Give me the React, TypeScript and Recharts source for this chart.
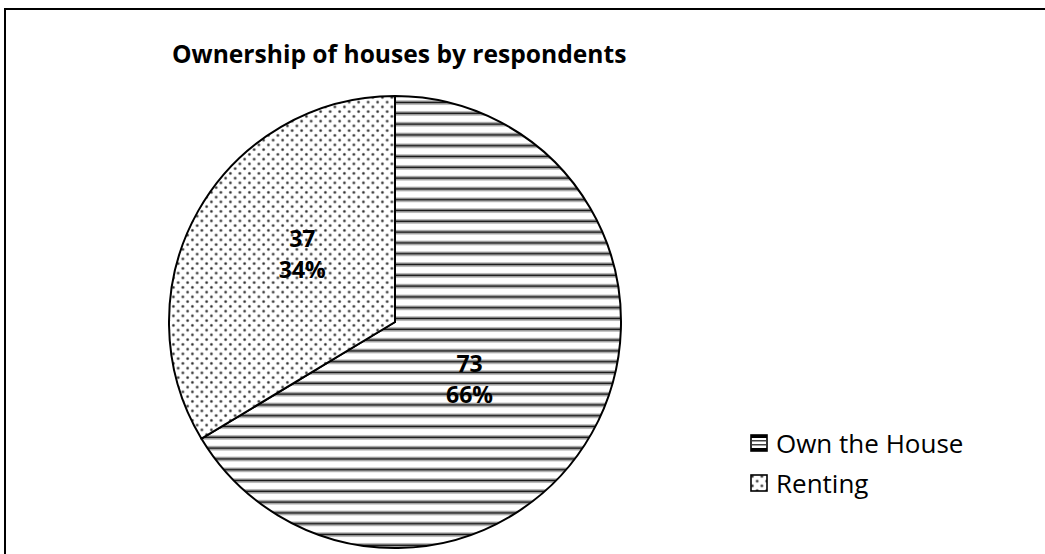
import React from "react";
import { PieChart, Pie, Cell } from "recharts";

const categories = ["Own the House", "Renting"];
const counts = [73, 37];
const percents = ["66%", "34%"];

const fills = ["url(#stripes)", "url(#dots)"];
// where each slice label sits, as a share of the radius from the centre
const labelOffset = [
  [0.33, 0.25],
  [-0.41, -0.3],
];

const data = categories.map((name, i) => ({ name, value: counts[i], pct: percents[i] }));

const FONT = "'Open Sans', 'Noto Sans', sans-serif";

function SliceLabel(props: any) {
  const { cx, cy, outerRadius, index } = props;
  const x = cx + outerRadius * labelOffset[index][0];
  const y = cy + outerRadius * labelOffset[index][1];
  return (
    <text x={x} y={y} textAnchor="middle" fontFamily={FONT} fontWeight={700} fontSize={23} fill="#000">
      <tspan x={x} dy={-7}>{data[index].value}</tspan>
      <tspan x={x} dy={31}>{data[index].pct}</tspan>
    </text>
  );
}

function Patterns() {
  return (
    <svg width={0} height={0} style={{ position: "absolute" }}>
      <defs>
        <pattern id="stripes" patternUnits="userSpaceOnUse" width={20} height={10.8}>
          <rect width={20} height={10.8} fill="#fff" />
          <rect y={3.3} width={20} height={1.2} fill="#999" />
          <rect y={4.5} width={20} height={1.8} fill="#111" />
          <rect y={6.3} width={20} height={1.2} fill="#999" />
        </pattern>
        <pattern id="dots" patternUnits="userSpaceOnUse" width={9.5} height={9.5}>
          <rect width={9.5} height={9.5} fill="#fff" />
          <circle cx={2.4} cy={2.4} r={1.6} fill="#999" />
          <circle cx={2.4} cy={2.4} r={1} fill="#222" />
          <circle cx={7.15} cy={7.15} r={1.6} fill="#999" />
          <circle cx={7.15} cy={7.15} r={1} fill="#222" />
        </pattern>
      </defs>
    </svg>
  );
}

export default function App() {
  return (
    <div style={{ position: "absolute", left: 0, top: 0, width: 1045, height: 554, background: "#fff", overflow: "hidden" }}>
      <Patterns />
      <svg width={1045} height={554} style={{ position: "absolute", left: 0, top: 0 }}>
        <rect x={5} y={9} width={2000} height={2000} fill="none" stroke="#000" strokeWidth={2} />
        <text x={172} y={63} fontFamily={FONT} fontWeight={700} fontSize={24.6} fill="#000">
          Ownership of houses by respondents
        </text>
      </svg>
      <div style={{ position: "absolute", left: 0, top: 0 }}>
        <PieChart width={1045} height={554} margin={{ top: 0, right: 0, bottom: 0, left: 0 }}>
          <Pie
            data={data}
            dataKey="value"
            nameKey="name"
            cx={395}
            cy={322}
            outerRadius={226}
            startAngle={90}
            endAngle={-270}
            stroke="#000"
            strokeWidth={2}
            label={SliceLabel}
            labelLine={false}
            isAnimationActive={false}
          >
            {data.map((d, i) => (
              <Cell key={d.name} fill={fills[i]} />
            ))}
          </Pie>
        </PieChart>
      </div>
      <div style={{ position: "absolute", left: 750, top: 423, fontFamily: FONT, fontSize: 26, color: "#000" }}>
        {data.map((d, i) => (
          <div key={d.name} style={{ display: "flex", alignItems: "center", height: 40 }}>
            <svg width={18} height={18} style={{ marginRight: 8 }}>
              <rect x={1} y={1} width={16} height={16} fill={i === 0 ? "#fff" : "url(#dots)"} stroke="#000" strokeWidth={1.6} />
              {i === 0 && (
                <>
                  <rect x={1} y={1} width={16} height={3} fill="#000" />
                  <rect x={2} y={6} width={14} height={1.5} fill="#444" />
                  <rect x={2} y={10} width={14} height={1.5} fill="#444" />
                  <rect x={1} y={14} width={16} height={3} fill="#000" />
                </>
              )}
            </svg>
            <span>{d.name}</span>
          </div>
        ))}
      </div>
    </div>
  );
}
